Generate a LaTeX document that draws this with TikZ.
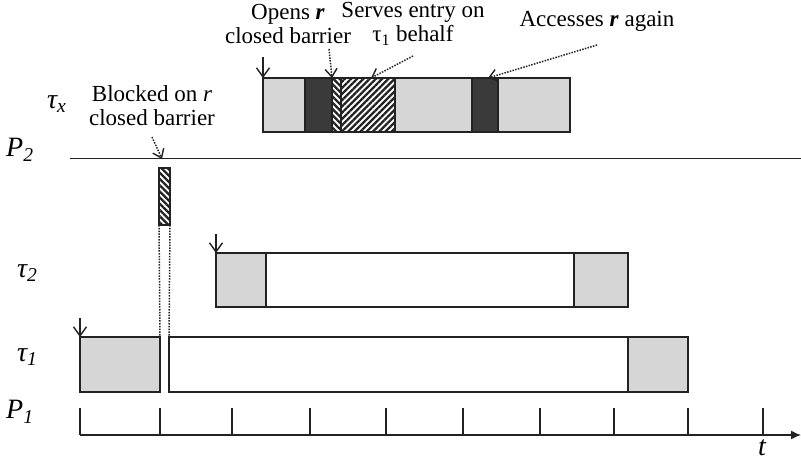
\documentclass[tikz,border=0pt]{standalone}
\usepackage{fontspec}
\setmainfont{Liberation Serif}
\usetikzlibrary{arrows.meta,patterns.meta}
\definecolor{lightg}{HTML}{D6D6D6}
\definecolor{darkg}{HTML}{3A3A3A}
\definecolor{ink}{HTML}{222222}
\begin{document}
\begin{tikzpicture}[x=1pt,y=-1pt,
  seg/.style={draw=ink, line width=1.4pt, inner sep=0pt, outer sep=0pt, anchor=north west},
  lg/.style={seg, fill=lightg},
  dk/.style={seg, fill=darkg},
  wh/.style={seg, fill=white},
  hatchR/.style={seg, pattern={Lines[angle=45,distance=4.4pt,line width=2.3pt]}, pattern color=ink},
  hatchL/.style={seg, pattern={Lines[angle=-45,distance=4.4pt,line width=2.3pt]}, pattern color=ink},
  lbl/.style={font=\fontsize{23}{24}\selectfont, align=center, inner sep=0pt},
  axl/.style={font=\fontsize{28}{29}\selectfont\itshape, inner sep=0pt},
  rel/.style={line width=1.4pt, draw=ink, -{Straight Barb[length=9pt,width=13pt]}},
  ptr/.style={line width=1.5pt, draw=ink, dash pattern=on 1.5pt off 1.3pt, -{Straight Barb[length=8pt,width=12pt,line width=1.4pt]}},
  vdot/.style={line width=1.5pt, draw=ink, dash pattern=on 1.5pt off 1.3pt}
]
\useasboundingbox (0,0) rectangle (801,461);

% tau_x row
\node[lg, minimum width=42pt, minimum height=54pt] (x1) at (263,78) {};
\node[dk, minimum width=27pt, minimum height=54pt] (x2) at (305,78) {};
\node[hatchL, minimum width=9pt, minimum height=54pt] (x3) at (332,78) {};
\node[hatchR, minimum width=54pt, minimum height=54pt] (x4) at (341,78) {};
\node[lg, minimum width=77pt, minimum height=54pt] (x5) at (395,78) {};
\node[dk, minimum width=26pt, minimum height=54pt] (x6) at (472,78) {};
\node[lg, minimum width=72pt, minimum height=54pt] (x7) at (498,78) {};
\coordinate (xrel) at (263,57);
\draw[rel] (xrel) -- (x1.north west);

% P2 separator
\coordinate (p2a) at (70,158);
\coordinate (p2b) at (801,158);
\draw[line width=1pt, draw=ink] (p2a) -- (p2b);

% blocked bar
\node[hatchL, minimum width=11pt, minimum height=57pt] (bb) at (159,168) {};

% tau_2 row
\node[lg, minimum width=50pt, minimum height=54pt] (a1) at (216,253) {};
\node[wh, minimum width=308pt, minimum height=54pt] (a2) at (266,253) {};
\node[lg, minimum width=54pt, minimum height=54pt] (a3) at (574,253) {};
\coordinate (arel) at (216,234);
\draw[rel] (arel) -- (a1.north west);

% tau_1 row
\node[lg, minimum width=80pt, minimum height=55pt] (b1) at (80,337) {};
\node[wh, minimum width=459pt, minimum height=55pt] (b2) at (169,337) {};
\node[lg, minimum width=60pt, minimum height=55pt] (b3) at (628,337) {};
\coordinate (brel) at (80,318);
\draw[rel] (brel) -- (b1.north west);

% dotted links bar -> tau_1
\draw[vdot] (bb.south west) -- (b1.north east);
\draw[vdot] (bb.south east) -- (b2.north west);

% time axis
\coordinate (ax0) at (80,435);
\coordinate (ax1) at (801,435);
\draw[line width=1.3pt, draw=ink, -{Latex[length=10pt,width=9pt]}] (ax0) -- (ax1);
\foreach \t in {80,160,232,310,386,463,540,614,688,763}
  \draw[line width=1.3pt, draw=ink] (\t,408) -- (\t,435);

% row labels
\node[axl, anchor=west] (ltx) at (47,104) {τ\textsubscript{x}};
\node[axl, anchor=west] (lp2) at (6,150) {P\textsubscript{2}};
\node[axl, anchor=west] (lt2) at (17,273) {τ\textsubscript{2}};
\node[axl, anchor=west] (lt1) at (17,357) {τ\textsubscript{1}};
\node[axl, anchor=west] (lp1) at (6,412) {P\textsubscript{1}};
\node[axl, anchor=base] (lt) at (762,455) {t};

% annotations
\node[lbl] (nopen) at (288,24) {Opens \textbf{\textit{r}}\\closed barrier};
\node[lbl] (nserve) at (413,24) {Serves entry on\\τ\textsubscript{1} behalf};
\node[lbl] (nacc) at (597,21) {Accesses \textbf{\textit{r}} again};
\node[lbl] (nblk) at (152,106) {Blocked on \textit{r}\\closed barrier};

\coordinate (popen) at (329,49);
\coordinate (pserve) at (413,56);
\coordinate (pacc) at (597,45);
\coordinate (pblk) at (152,137);
\draw[ptr] (popen) -- (x3.north west);
\draw[ptr] (pserve) -- ([xshift=30pt]x4.north west);
\draw[ptr] (pacc) -- ([xshift=16pt]x6.north west);
\draw[ptr] (pblk) -- (162,159);
\end{tikzpicture}
\end{document}
